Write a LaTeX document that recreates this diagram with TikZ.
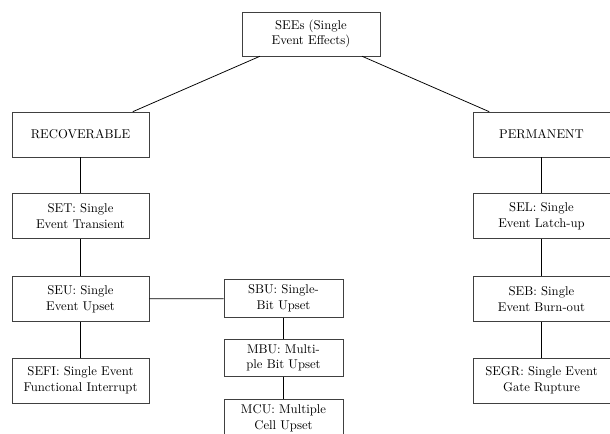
\documentclass[tikz,border=0pt]{standalone}
\begin{document}
\begin{tikzpicture}[x=0.7874pt,y=-0.7874pt,
  box/.style={draw=black!75, line width=0.5pt, align=center, inner sep=0pt,
    font=\fontsize{10}{12.3}\selectfont},
  colbox/.style={box, minimum width=107.9pt, minimum height=35.4pt},
  midbox/.style={box, minimum width=93.7pt, minimum height=29.5pt},
  link/.style={draw=black, line width=0.6pt}]
\clip (0,0) rectangle (610,434);
\fill[white] (0,0) rectangle (610,434);
\node[box, minimum width=108.7pt, minimum height=34.6pt] (sees) at (311,34) {SEEs (Single\\Event Effects)};
\node[colbox] (rec) at (80.5,134.5) {RECOVERABLE};
\node[colbox] (set) at (80.5,216) {SET: Single\\Event Transient};
\node[colbox] (seu) at (80.5,299) {SEU: Single\\Event Upset};
\node[colbox] (sefi) at (80.5,380.5) {SEFI: Single Event\\Functional Interrupt};
\node[midbox] (sbu) at (283.5,298.5) {SBU: Single-\\Bit Upset};
\node[midbox] (mbu) at (283.5,358) {MBU: Multi-\\ple Bit Upset};
\node[midbox] (mcu) at (283.5,418) {MCU: Multiple\\Cell Upset};
\node[colbox] (perm) at (541.5,134.5) {PERMANENT};
\node[colbox] (sel) at (541.5,216) {SEL: Single\\Event Latch-up};
\node[colbox] (seb) at (541.5,299) {SEB: Single\\Event Burn-out};
\node[colbox] (segr) at (541.5,380.5) {SEGR: Single Event\\Gate Rupture};
\draw[link] (sees) -- (rec);
\draw[link] (sees) -- (perm);
\draw[link] (rec) -- (set);
\draw[link] (set) -- (seu);
\draw[link] (seu) -- (sefi);
\draw[link] (seu) -- (sbu);
\draw[link] (sbu) -- (mbu);
\draw[link] (mbu) -- (mcu);
\draw[link] (perm) -- (sel);
\draw[link] (sel) -- (seb);
\draw[link] (seb) -- (segr);
\end{tikzpicture}
\end{document}
